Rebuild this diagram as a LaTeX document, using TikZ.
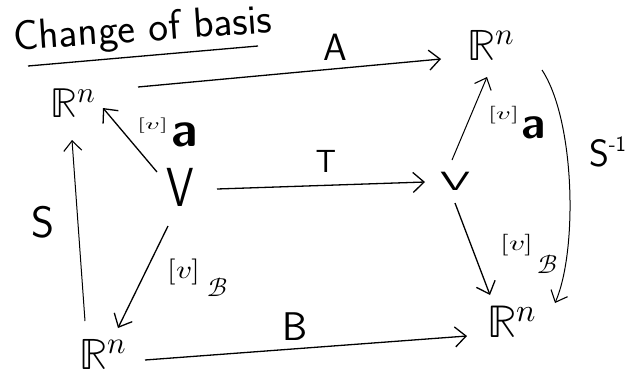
\documentclass[tikz,border=0pt]{standalone}
\usepackage{unicode-math}
\usetikzlibrary{arrows.meta}
\newcommand\fsz[1]{\fontsize{#1}{#1}\selectfont}
\begin{document}
\begin{tikzpicture}[x=1pt,y=-1pt,
  lbl/.style={inner sep=0pt,outer sep=0pt},
  rn/.style={lbl,font=\fsz{42}},
  arr/.style={line width=1.3pt,-{Straight Barb[length=11pt,width=20pt,line width=1.3pt]}},
  thinarr/.style={line width=1pt,-{Straight Barb[length=10pt,width=18pt,line width=1.1pt]}}]
\useasboundingbox (0,0) rectangle (635,378);
% title
\node[lbl,font=\fsz{42}\sffamily,rotate=4] (title) at (143,31) {Change of basis};
\draw[line width=1.3pt] (28,66) -- (258,46);
% spaces
\node[rn] (Rtl) at (73,103) {$\mathbb{R}^n$};
\node[rn,font=\fsz{44}] (Rtr) at (491,45) {$\mathbb{R}^n$};
\node[rn,font=\fsz{44}] (Rbl) at (103,354) {$\mathbb{R}^n$};
\node[rn,font=\fsz{46}] (Rbr) at (512,322) {$\mathbb{R}^n$};
\node[lbl,font=\fsz{44}\sffamily] (Vl) at (180,187) {\scalebox{1}[1.25]{V}};
\node[lbl,font=\fsz{48}\sffamily] (Vr) at (455,181) {\scalebox{1}[0.55]{V}};
% connectors
\draw[arr] ([shift={(65,-16)}]Rtl.center) -- ([shift={(-50,14)}]Rtr.center);
\draw[arr] ([shift={(37,2)}]Vl.center) -- ([shift={(-30,1)}]Vr.center);
\draw[arr] ([shift={(-23,-15)}]Vl.center) -- ([shift={(30,5)}]Rtl.center);
\draw[arr] ([shift={(-12,39)}]Vl.center) -- ([shift={(15,-26)}]Rbl.center);
\draw[thinarr] ([shift={(-18,-33)}]Rbl.center) -- ([shift={(-1,37)}]Rtl.center);
\draw[arr] ([shift={(42,6)}]Rbl.center) -- ([shift={(-45,14)}]Rbr.center);
\draw[thinarr] ([shift={(-3,-21)}]Vr.center) -- ([shift={(-4,32)}]Rtr.center);
\draw[arr] ([shift={(0,22)}]Vr.center) -- ([shift={(-22,-27)}]Rbr.center);
\draw[thinarr] ([shift={(51,25)}]Rtr.center) .. controls (575,120) and (578,250) .. ([shift={(43,-19)}]Rbr.center);
% labels
\node[lbl,font=\fsz{38}\sffamily] (lA) at (335,47) {A};
\node[lbl,font=\fsz{32}\sffamily] (lT) at (326,161) {T};
\node[lbl,font=\fsz{44}\sffamily] (lS) at (43,222) {S};
\node[lbl,font=\fsz{40}\sffamily] (lB) at (295,327) {B};
\node[lbl,font=\fsz{38}\sffamily,anchor=base west] (lSi) at (589,166) {S\raisebox{15pt}{\fsz{22}-1}};
\node[lbl,font=\fsz{22}] (v1) at (153,126) {\scalebox{1.3}[0.7]{$[v]$}};
\node[lbl,font=\fsz{50}\sffamily\bfseries] (a1) at (185,135) {a};
\node[lbl,font=\fsz{22}] (v2) at (504,115) {\scalebox{1.3}[0.8]{$[v]$}};
\node[lbl,font=\fsz{46}\sffamily\bfseries] (a2) at (534,128) {a};
\node[lbl,font=\fsz{26}] (v3) at (184,272) {\scalebox{1.2}[1]{$[v]$}};
\node[lbl,font=\fsz{26}] (b3) at (218,287) {$\mathcal{B}$};
\node[lbl,font=\fsz{24}] (v4) at (517,245) {\scalebox{1.3}[0.9]{$[v]$}};
\node[lbl,font=\fsz{26}] (b4) at (548,264) {$\mathcal{B}$};
\end{tikzpicture}
\end{document}
